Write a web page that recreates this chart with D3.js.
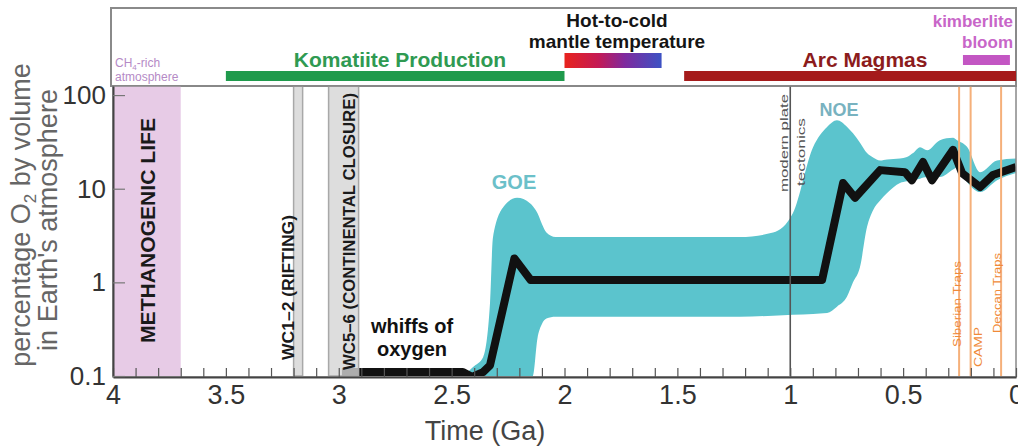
<!DOCTYPE html>
<html>
<head>
<meta charset="utf-8">
<script src="https://d3js.org/d3.v7.min.js"></script>
<style>
  body { margin: 0; background: #fff; }
  text { font-family: "Liberation Sans", Arial, sans-serif; }
</style>
</head>
<body>
<svg width="1018" height="447"></svg>
<script>
// median O2 curve (Ga, % O2)
var medianTime = [2.986, 2.45, 2.41, 2.361, 2.33, 2.222, 2.15, 0.859, 0.766, 0.713, 0.602, 0.492, 0.461, 0.412, 0.372, 0.279, 0.239, 0.159, 0.102, 0];
var medianO2   = [0.11, 0.11, 0.098, 0.11, 0.13, 1.8, 1.06, 1.06, 11.5, 8.0, 15.8, 15.0, 12.3, 19.3, 12.3, 26, 14.7, 10.4, 14, 17];

// uncertainty envelope
var bandTime = [2.45, 2.405, 2.36, 2.33, 2.317, 2.27, 2.21, 2.153, 2.14, 2.12, 2.10, 2.08, 2.04, 1.6, 1.223, 1.076, 0.988, 0.899, 0.837, 0.793, 0.749, 0.722, 0.691, 0.66, 0.633, 0.602, 0.571, 0.514, 0.483, 0.456, 0.425, 0.394, 0.337, 0.279, 0.261, 0.217, 0.159, 0.084, 0];
var bandHigh = [0.1, 0.125, 0.16, 0.6, 3.0, 6.4, 8.0, 7.0, 6.5, 5.5, 4.2, 3.4, 3.05, 3.05, 3.05, 3.4, 5.5, 27.8, 45.7, 54, 46, 39, 31, 24, 21.5, 20, 20.5, 21, 21.8, 24, 27.8, 25.8, 33, 35, 33, 28, 15, 20, 21];
var bandLow  = [0.1, 0.1, 0.1, 0.1, 0.1, 0.1, 0.1, 0.1, 0.1, 0.25, 0.36, 0.41, 0.43, 0.43, 0.43, 0.44, 0.45, 0.46, 0.47, 0.55, 0.70, 1.0, 1.46, 3.9, 5.9, 7.5, 9.0, 11.5, 12.0, 12.3, 12.8, 13.3, 13.3, 16, 17, 11.8, 9.2, 12.3, 14.7];

// shaded intervals in the plot (Ga)
var wcNames  = ["WC1\u20132 (RIFTING)", "WC5\u20136 (CONTINENTAL CLOSURE)"];
var wcStart  = [3.2, 3.045];
var wcEnd    = [3.16, 2.912];
var methanogenic = [4.0, 3.7];

// large igneous provinces (Ga)
var lipNames = ["Siberian Traps", "CAMP", "Deccan Traps"];
var lipAges  = [0.252, 0.201, 0.066];

// top panel intervals (Ga)
var komatiite  = [3.5, 2.0];
var mantleTemp = [2.0, 1.57];
var arcMagmas  = [1.47, 0];
var kimberlite = [0.235, 0.027];

var xTickValues = [4, 3.5, 3, 2.5, 2, 1.5, 1, 0.5, 0];
var xMinorTicks = d3.range(0, 41).map(function (i) { return i / 10; });
var yTickValues = [0.1, 1, 10, 100];

var svg = d3.select("svg");
var pLeft = 113, pRight = 1016, pTop = 86, pBottom = 376;

var x = d3.scaleLinear().domain([4, 0]).range([pLeft, pRight]);
var y = d3.scaleLog().domain([0.1, 125]).range([pBottom, pTop]);

var defs = svg.append("defs");
defs.append("clipPath").attr("id", "plotclip")
    .append("rect").attr("x", pLeft).attr("y", pTop).attr("width", pRight - pLeft).attr("height", pBottom - pTop);

var grad = defs.append("linearGradient").attr("id", "mantle")
    .attr("gradientUnits", "userSpaceOnUse")
    .attr("x1", x(mantleTemp[0])).attr("x2", x(mantleTemp[1])).attr("y1", 0).attr("y2", 0);
grad.append("stop").attr("offset", "0%").attr("stop-color", "#e8231d");
grad.append("stop").attr("offset", "35%").attr("stop-color", "#c41a55");
grad.append("stop").attr("offset", "62%").attr("stop-color", "#7f2a9e");
grad.append("stop").attr("offset", "100%").attr("stop-color", "#3c52c4");

// ---- top panel ----
svg.append("rect")
    .attr("x", pLeft - 2).attr("y", 8).attr("width", pRight - pLeft + 2).attr("height", pTop - 8)
    .attr("fill", "none").attr("stroke", "#8a8a8a").attr("stroke-width", 2);

var ch4 = svg.append("text").attr("x", pLeft + 2).attr("y", 67)
    .attr("font-size", 12).attr("fill", "#b58ac6");
ch4.append("tspan").text("CH");
ch4.append("tspan").attr("font-size", 8).attr("dy", 3).text("4");
ch4.append("tspan").attr("dy", -3).text("-rich");
svg.append("text").attr("x", pLeft + 2).attr("y", 81)
    .attr("font-size", 12).attr("fill", "#b58ac6").text("atmosphere");

svg.append("rect").attr("x", x(komatiite[0])).attr("y", 71)
    .attr("width", x(komatiite[1]) - x(komatiite[0])).attr("height", 10).attr("fill", "#1f9a4c");
svg.append("text").attr("x", 400).attr("y", 67).attr("text-anchor", "middle")
    .attr("font-size", 21).attr("font-weight", "bold").attr("fill", "#2f9a52").text("Komatiite Production");

svg.append("rect").attr("x", x(mantleTemp[0])).attr("y", 53)
    .attr("width", x(mantleTemp[1]) - x(mantleTemp[0])).attr("height", 15).attr("fill", "url(#mantle)");
svg.append("text").attr("x", 617).attr("y", 27).attr("text-anchor", "middle")
    .attr("font-size", 19).attr("font-weight", "bold").attr("fill", "#151515").text("Hot-to-cold");
svg.append("text").attr("x", 617).attr("y", 48).attr("text-anchor", "middle")
    .attr("font-size", 19).attr("font-weight", "bold").attr("fill", "#151515").text("mantle temperature");

svg.append("rect").attr("x", x(arcMagmas[0])).attr("y", 71)
    .attr("width", x(arcMagmas[1]) - x(arcMagmas[0])).attr("height", 10).attr("fill", "#a51b1b");
svg.append("text").attr("x", 865).attr("y", 67).attr("text-anchor", "middle")
    .attr("font-size", 21).attr("font-weight", "bold").attr("fill", "#8c1c1c").text("Arc Magmas");

svg.append("rect").attr("x", x(kimberlite[0])).attr("y", 55)
    .attr("width", x(kimberlite[1]) - x(kimberlite[0])).attr("height", 10).attr("fill", "#c356c3");
svg.append("text").attr("x", 1013).attr("y", 27).attr("text-anchor", "end")
    .attr("font-size", 17).attr("font-weight", "bold").attr("fill", "#c866c8").text("kimberlite");
svg.append("text").attr("x", 1013).attr("y", 48).attr("text-anchor", "end")
    .attr("font-size", 17).attr("font-weight", "bold").attr("fill", "#c866c8").text("bloom");

// ---- main plot ----
var plot = svg.append("g").attr("clip-path", "url(#plotclip)");

plot.append("rect")
    .attr("x", x(methanogenic[0])).attr("y", pTop)
    .attr("width", x(methanogenic[1]) - x(methanogenic[0])).attr("height", pBottom - pTop)
    .attr("fill", "#e7cbe6");

var bandData = bandTime.map(function (t, i) { return {t: t, lo: bandLow[i], hi: bandHigh[i]}; });
var area = d3.area()
    .x(function (d) { return x(d.t); })
    .y0(function (d) { return y(d.lo); })
    .y1(function (d) { return y(d.hi); })
    .curve(d3.curveMonotoneX);
plot.append("path").datum(bandData).attr("d", area).attr("fill", "#5bc4cd");

var medianData = medianTime.map(function (t, i) { return {t: t, v: medianO2[i]}; });
var line = d3.line()
    .x(function (d) { return x(d.t); })
    .y(function (d) { return y(d.v); });
plot.append("path").datum(medianData).attr("d", line)
    .attr("fill", "none").attr("stroke", "#111").attr("stroke-width", 8)
    .attr("stroke-linejoin", "round").attr("stroke-linecap", "butt");

// WC bars drawn over the line
plot.selectAll(".wc").data(wcStart).enter().append("rect")
    .attr("class", "wc")
    .attr("x", function (d) { return x(d); })
    .attr("y", pTop)
    .attr("width", function (d, i) { return x(wcEnd[i]) - x(d); })
    .attr("height", pBottom - pTop)
    .attr("fill", "#d4d4d4").attr("fill-opacity", 0.8)
    .attr("stroke", "#a8a8a8").attr("stroke-width", 1.5);

// modern plate tectonics line
plot.append("line").attr("x1", x(1)).attr("x2", x(1)).attr("y1", pTop).attr("y2", pBottom)
    .attr("stroke", "#555").attr("stroke-width", 1.6);

// LIP lines
plot.selectAll(".lip").data(lipAges).enter().append("line")
    .attr("class", "lip")
    .attr("x1", function (d) { return x(d); }).attr("x2", function (d) { return x(d); })
    .attr("y1", pTop).attr("y2", pBottom)
    .attr("stroke", "#f5b07a").attr("stroke-width", 2);

function vtext(px, py, str, size, len, color, weight) {
    var t = svg.append("text")
        .attr("transform", "translate(" + px + "," + py + ") rotate(-90)")
        .attr("font-size", size).attr("fill", color).text(str);
    if (weight) t.attr("font-weight", weight);
    if (len) t.attr("textLength", len).attr("lengthAdjust", "spacingAndGlyphs");
    return t;
}

vtext(155, 343, "METHANOGENIC LIFE", 20, 225, "#1a1a1a", "bold");
vtext(294, 360, wcNames[0], 16, 145, "#1a1a1a", "bold");
vtext(355, 370, wcNames[1], 16, 277, "#1a1a1a", "bold");
vtext(788, 192, "modern plate", 11, 98, "#555");
vtext(805, 186, "tectonics", 11, 68, "#555");
vtext(961, 347, lipNames[0], 10, 86, "#f08a38");
vtext(982, 367, lipNames[1], 10, 40, "#f08a38");
vtext(1001, 333, lipNames[2], 10, 80, "#f08a38");

svg.append("text").attr("x", 514).attr("y", 189).attr("text-anchor", "middle")
    .attr("font-size", 20).attr("font-weight", "bold").attr("fill", "#6bc0c9").text("GOE");
svg.append("text").attr("x", 839).attr("y", 116).attr("text-anchor", "middle")
    .attr("font-size", 18).attr("font-weight", "bold").attr("fill", "#78b2c0").text("NOE");
svg.append("text").attr("x", 412).attr("y", 333).attr("text-anchor", "middle")
    .attr("font-size", 20).attr("font-weight", "bold").attr("fill", "#111").text("whiffs of");
svg.append("text").attr("x", 412).attr("y", 356).attr("text-anchor", "middle")
    .attr("font-size", 20).attr("font-weight", "bold").attr("fill", "#111").text("oxygen");

// plot frame
svg.append("rect").attr("x", pLeft).attr("y", pTop).attr("width", pRight - pLeft).attr("height", pBottom - pTop + 1)
    .attr("fill", "none").attr("stroke", "#888").attr("stroke-width", 1.5);

// ---- axes ----
var xMinor = svg.append("g").attr("transform", "translate(0," + (pBottom + 1) + ")")
    .call(d3.axisBottom(x).tickValues(xMinorTicks).tickSizeInner(-9).tickSizeOuter(0).tickFormat(""));
xMinor.select(".domain").attr("stroke", "#444").attr("stroke-width", 2);
xMinor.selectAll(".tick line").attr("stroke", "#555").attr("stroke-width", 1.2);

var xAxis = svg.append("g").attr("transform", "translate(0," + (pBottom + 1) + ")")
    .call(d3.axisBottom(x).tickValues(xTickValues).tickSize(0).tickPadding(8)
        .tickFormat(function (d) { return String(d); }));
xAxis.select(".domain").remove();
xAxis.selectAll("text").attr("font-size", 27).attr("fill", "#333")
    .attr("font-family", "Liberation Sans, Arial, sans-serif");

var yAxis = svg.append("g").attr("transform", "translate(" + pLeft + ",0)")
    .call(d3.axisLeft(y).tickValues(yTickValues).tickSizeInner(-12).tickSizeOuter(0).tickPadding(7)
        .tickFormat(function (d) { return String(d); }));
yAxis.select(".domain").attr("stroke", "#444").attr("stroke-width", 2);
yAxis.selectAll(".tick line").attr("stroke", "#777").attr("stroke-width", 1.2);
yAxis.selectAll("text").attr("font-size", 26).attr("fill", "#333")
    .attr("font-family", "Liberation Sans, Arial, sans-serif");

svg.append("text").attr("x", 485).attr("y", 440).attr("text-anchor", "middle")
    .attr("font-size", 27).attr("fill", "#444").text("Time (Ga)");

var yl = svg.append("text")
    .attr("transform", "translate(30,215) rotate(-90)")
    .attr("text-anchor", "middle").attr("font-size", 27).attr("fill", "#666");
yl.append("tspan").text("percentage O");
yl.append("tspan").attr("font-size", 17).attr("dy", 6).text("2");
yl.append("tspan").attr("dy", -6).text(" by volume");
svg.append("text")
    .attr("transform", "translate(57,220) rotate(-90)")
    .attr("text-anchor", "middle").attr("font-size", 27).attr("fill", "#666")
    .text("in Earth's atmosphere");
</script>
</body>
</html>
